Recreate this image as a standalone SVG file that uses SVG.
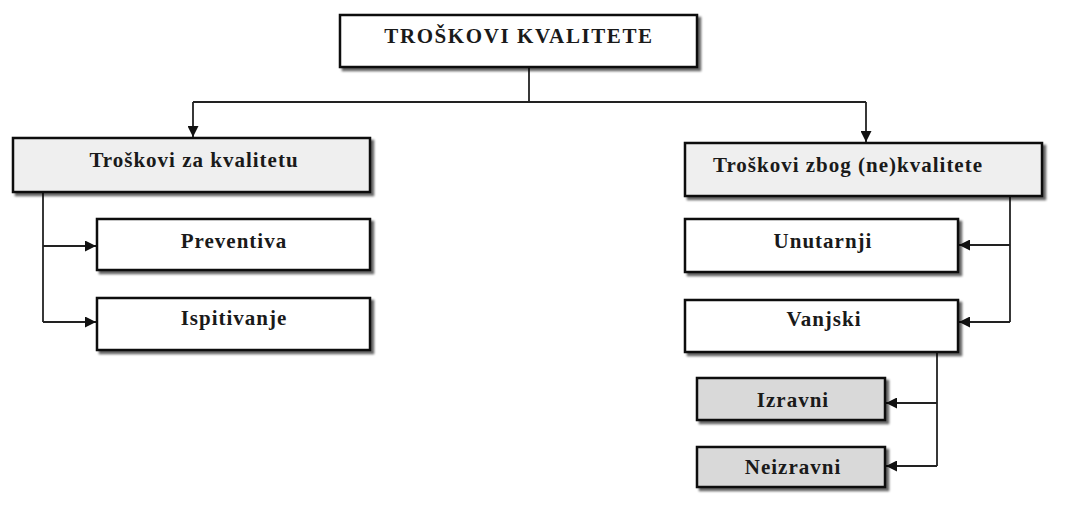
<svg xmlns="http://www.w3.org/2000/svg" width="1071" height="510" viewBox="0 0 1071 510">
<defs>
<marker id="ah" viewBox="0 0 10 10" refX="10" refY="5" markerWidth="11" markerHeight="11" markerUnits="userSpaceOnUse" orient="auto">
<path d="M0,0 L10,5 L0,10 z" fill="#111"/>
</marker>
<filter id="sh" x="-5%" y="-10%" width="115%" height="130%">
<feGaussianBlur in="SourceAlpha" stdDeviation="1.2"/>
<feOffset dx="3" dy="3" result="o"/>
<feComponentTransfer><feFuncA type="linear" slope="0.6"/></feComponentTransfer>
<feMerge><feMergeNode/><feMergeNode in="SourceGraphic"/></feMerge>
</filter>
</defs>
<style>
.box{stroke:#111;stroke-width:2.5;filter:url(#sh)}
.w{fill:#fff}
.l{fill:#efefef}
.g{fill:#d9d9d9}
text{font-family:"Liberation Serif","Times New Roman",serif;font-weight:bold;fill:#1a1a1a;text-anchor:middle;font-size:21px;letter-spacing:1px}
.c{fill:none;stroke:#222;stroke-width:1.8}
</style>
<rect width="1071" height="510" fill="#fff"/>
<g id="connectors">
<path class="c" d="M529,67 V102"/>
<path class="c" d="M193,102 H866"/>
<path class="c" d="M193,102 V137" marker-end="url(#ah)"/>
<path class="c" d="M866,102 V142" marker-end="url(#ah)"/>
<path class="c" d="M43,192 V322"/>
<path class="c" d="M43,246 H96" marker-end="url(#ah)"/>
<path class="c" d="M43,322 H96" marker-end="url(#ah)"/>
<path class="c" d="M1010,196 V322"/>
<path class="c" d="M1010,245 H959" marker-end="url(#ah)"/>
<path class="c" d="M1010,322 H959" marker-end="url(#ah)"/>
<path class="c" d="M937,352 V466"/>
<path class="c" d="M937,403 H886" marker-end="url(#ah)"/>
<path class="c" d="M937,466 H886" marker-end="url(#ah)"/>
</g>
<g id="root">
<rect class="box w" x="340" y="15" width="357" height="52"/>
<text x="519" y="43" style="letter-spacing:1.6px">TROŠKOVI KVALITETE</text>
</g>
<g id="za">
<rect class="box l" x="13" y="138" width="357" height="54"/>
<text x="194" y="167">Troškovi za kvalitetu</text>
</g>
<g id="preventiva">
<rect class="box w" x="97" y="219" width="273" height="51"/>
<text x="234" y="248">Preventiva</text>
</g>
<g id="ispitivanje">
<rect class="box w" x="97" y="298" width="273" height="52"/>
<text x="234" y="325">Ispitivanje</text>
</g>
<g id="zbog">
<rect class="box l" x="685" y="143" width="357" height="53"/>
<text x="848" y="172">Troškovi zbog (ne)kvalitete</text>
</g>
<g id="unutarnji">
<rect class="box w" x="685" y="219" width="273" height="53"/>
<text x="823" y="248">Unutarnji</text>
</g>
<g id="vanjski">
<rect class="box w" x="685" y="300" width="273" height="52"/>
<text x="824" y="326">Vanjski</text>
</g>
<g id="izravni">
<rect class="box g" x="697" y="378" width="188" height="42"/>
<text x="793" y="407">Izravni</text>
</g>
<g id="neizravni">
<rect class="box g" x="697" y="447" width="188" height="40"/>
<text x="793" y="474">Neizravni</text>
</g>
</svg>
